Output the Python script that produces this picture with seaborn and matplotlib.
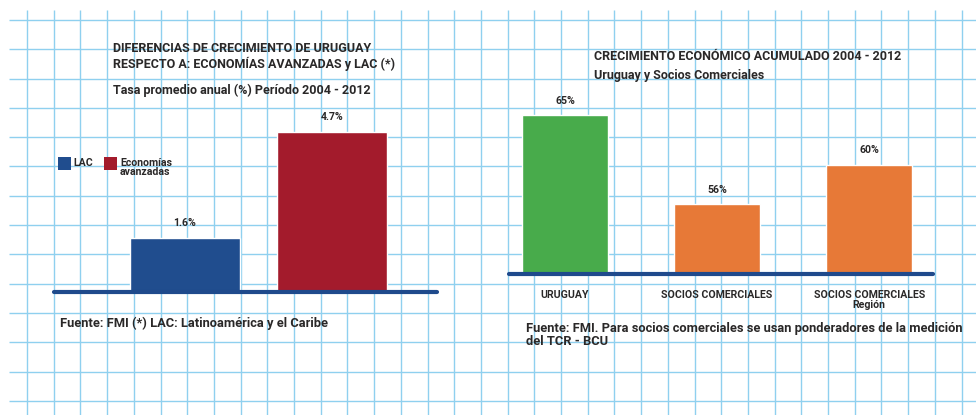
import matplotlib
matplotlib.use("Agg")
import matplotlib.pyplot as plt
from matplotlib.patches import Rectangle
import numpy as np
import pandas as pd
import seaborn as sns

# ---------------- data ----------------
left_categories = ["LAC", "Economías\navanzadas"]
left_values = [1.6, 4.7]
left_value_labels = ["1.6%", "4.7%"]
left_colors = ["#204d8e", "#a31b2c"]

right_categories = ["URUGUAY", "SOCIOS COMERCIALES", "SOCIOS COMERCIALES\nRegión"]
right_values = [65, 56, 60]
right_value_labels = ["65%", "56%", "60%"]
right_colors = ["#48ab4b", "#e77937", "#e77937"]

left_title = "DIFERENCIAS DE CRECIMIENTO DE URUGUAY\nRESPECTO A: ECONOMÍAS AVANZADAS y LAC (*)"
left_subtitle = "Tasa promedio anual (%) Período 2004 - 2012"
left_source = "Fuente: FMI (*) LAC: Latinoamérica y el Caribe"
right_title = "CRECIMIENTO ECONÓMICO ACUMULADO 2004 - 2012"
right_subtitle = "Uruguay y Socios Comerciales"
right_source = "Fuente: FMI. Para socios comerciales se usan ponderadores de la medición\ndel TCR - BCU"

# ---------------- style ----------------
sns.set_theme(style="white")
plt.rcParams["font.family"] = ["Roboto", "DejaVu Sans"]
plt.rcParams["font.weight"] = "bold"
TXT = "#2a2828"
NAVY = "#1f4a8c"
GRID = "#8fd0ef"
FS_T = 9.0
FS_F = 9.3
FS_S = 7.6

W, H = 976, 415
fig = plt.figure(figsize=(W / 100, H / 100), dpi=100)
fig.patch.set_facecolor("white")


def px_axes(x0, y0, x1, y1, **kw):
    """axes from pixel box (top-left origin)"""
    return fig.add_axes([x0 / W, 1 - y1 / H, (x1 - x0) / W, (y1 - y0) / H], **kw)


# background grid paper
bg = px_axes(0, 0, W, H, zorder=0)
bg.set_xlim(0, W)
bg.set_ylim(H, 0)
bg.axis("off")
xs = np.arange(27, W, 26.7)
ys = np.arange(20, H, 29.3)
bg.vlines(xs, 10, H, color=GRID, lw=1.0, zorder=1)
bg.hlines(ys, 9, W, color=GRID, lw=1.0, zorder=1)

# ---------------- left chart ----------------
axL = px_axes(54, 100, 437, 292, zorder=2)
axL.set_facecolor("none")
dfL = pd.DataFrame({"cat": left_categories, "val": left_values})
sns.barplot(data=dfL, x="cat", y="val", hue="cat", palette=left_colors,
            width=0.748, saturation=1, legend=False, ax=axL)
axL.set_xlim(-0.891, 1.714)
axL.set_ylim(0, 192 / 34)
for cont, lab in zip(axL.containers, left_value_labels):
    axL.bar_label(cont, labels=[lab], padding=7, fontsize=FS_S,
                  fontweight="bold", color=TXT)
axL.axhline(0, color=NAVY, lw=3, zorder=5, clip_on=False)
axL.axis("off")

# legend (manual swatches)
for (sx, tx), c, lab in zip([(58, 73), (104, 120)], left_colors, left_categories):
    bg.add_patch(Rectangle((sx, 157), 13, 13, color=c, lw=0, zorder=3))
    bg.text(tx, 157.5, lab, fontsize=FS_S, fontweight="bold", color=TXT,
            va="top", ha="left", linespacing=0.95, zorder=4)

bg.text(113, 42, left_title, fontsize=FS_T, fontweight="bold", color=TXT,
        va="top", ha="left", linespacing=1.15)
bg.text(113, 84, left_subtitle, fontsize=FS_T, fontweight="bold", color=TXT,
        va="top", ha="left")
bg.text(60, 317, left_source, fontsize=FS_F, fontweight="bold", color=TXT,
        va="top", ha="left")

# ---------------- right chart ----------------
axR = px_axes(509, 90, 933, 273.7, zorder=2)
axR.set_facecolor("none")
dfR = pd.DataFrame({"cat": right_categories, "val": right_values})
sns.barplot(data=dfR, x="cat", y="val", hue="cat", palette=right_colors,
            width=0.566, saturation=1, legend=False, ax=axR)
axR.set_xlim(-0.368, 2.42)
axR.set_ylim(49, 49 + 183.7 / 9.89)
for cont, lab in zip(axR.containers, right_value_labels):
    axR.bar_label(cont, labels=[lab], padding=7, fontsize=FS_S,
                  fontweight="bold", color=TXT)
axR.axhline(49, color=NAVY, lw=3, zorder=5, clip_on=False)
for s in axR.spines.values():
    s.set_visible(False)
axR.set_yticks([])
axR.set_xlabel("")
axR.set_ylabel("")
axR.tick_params(axis="x", length=0, pad=12, labelsize=FS_S, labelcolor=TXT)
for t in axR.get_xticklabels():
    t.set_fontweight("bold")
    t.set_linespacing(0.95)

bg.text(594, 50, right_title, fontsize=FS_T, fontweight="bold", color=TXT,
        va="top", ha="left")
bg.text(594, 69, right_subtitle, fontsize=FS_T, fontweight="bold", color=TXT,
        va="top", ha="left")
bg.text(526, 322, right_source, fontsize=FS_F, fontweight="bold", color=TXT,
        va="top", ha="left", linespacing=1.0)

fig.savefig("out.png", dpi=100, facecolor="white")
